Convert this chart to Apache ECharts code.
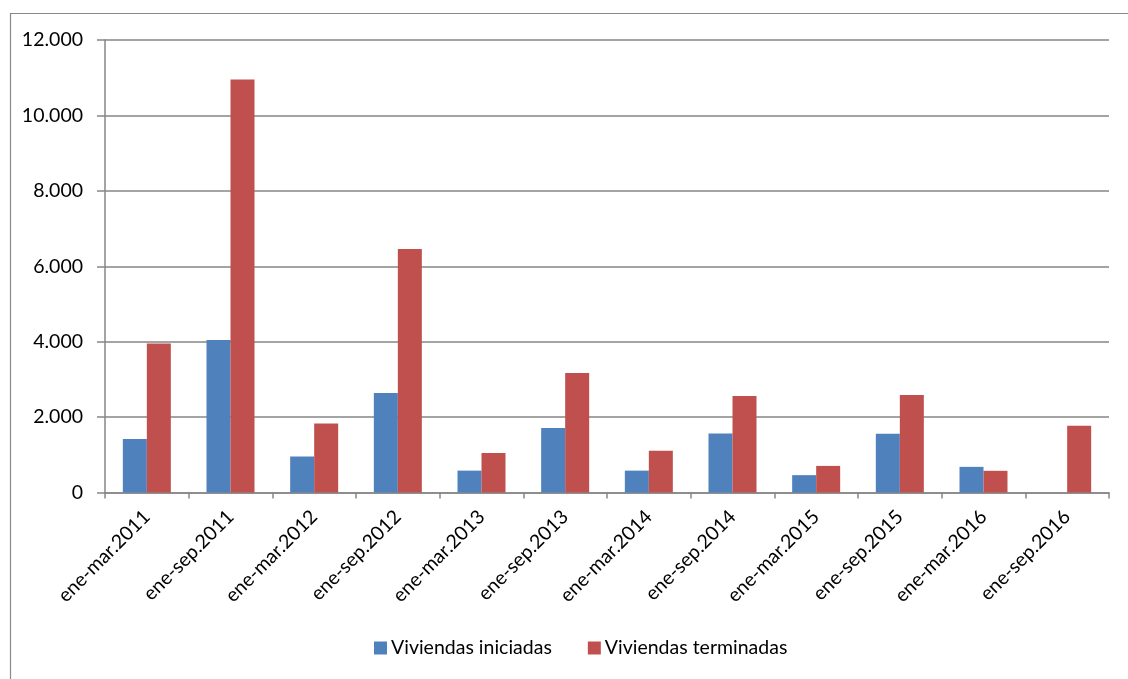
<!DOCTYPE html>
<html>
<head>
<meta charset="utf-8">
<script src="https://cdn.jsdelivr.net/npm/echarts@6/dist/echarts.min.js"></script>
<style>
html,body{margin:0;padding:0;background:#fff;}
#chart{width:1128px;height:679px;}
</style>
</head>
<body>
<div id="chart"></div>
<script>
const categories = ['ene-mar.2011','ene-sep.2011','ene-mar.2012','ene-sep.2012','ene-mar.2013','ene-sep.2013','ene-mar.2014','ene-sep.2014','ene-mar.2015','ene-sep.2015','ene-mar.2016','ene-sep.2016'];
const iniciadas = [1420, 4045, 955, 2640, 580, 1710, 580, 1565, 460, 1555, 680, 0];
const terminadas = [3950, 10950, 1830, 6460, 1045, 3170, 1110, 2560, 705, 2585, 575, 1770];
const seriesNames = ['Viviendas iniciadas', 'Viviendas terminadas'];
const yTicks = { min: 0, max: 12000, interval: 2000 };

const FONT = 'Lato';
const FS = 19.5;
const chart = echarts.init(document.getElementById('chart'), null, { renderer: 'canvas' });
const fmt = v => String(v).replace(/\B(?=(\d{3})+(?!\d))/g, '.');

chart.setOption({
  animation: false,
  backgroundColor: '#fff',
  textStyle: { fontFamily: FONT },
  graphic: [{
    type: 'rect',
    left: 8, top: 11,
    shape: { width: 1300, height: 900 },
    style: { fill: 'none', stroke: '#898989', lineWidth: 1.2 },
    silent: true, z: -1
  }],
  grid: { left: 105, right: 19, top: 40, bottom: 186.5, containLabel: false },
  legend: {
    bottom: 16,
    left: 369,
    itemWidth: 13, itemHeight: 13,
    itemGap: 36,
    icon: 'rect',
    textStyle: { fontFamily: FONT, fontSize: FS, color: '#000', padding: [0, 0, 0, -1] },
    data: seriesNames
  },
  xAxis: {
    type: 'category',
    data: categories,
    axisLine: { lineStyle: { color: '#868686', width: 1.5 } },
    axisTick: { show: true, alignWithLabel: false, length: 6, lineStyle: { color: '#868686', width: 1.5 } },
    axisLabel: { rotate: 45, interval: 0, margin: 21, fontFamily: FONT, fontSize: FS, color: '#000' }
  },
  yAxis: {
    type: 'value',
    min: yTicks.min, max: yTicks.max, interval: yTicks.interval,
    axisLine: { show: true, lineStyle: { color: '#868686', width: 1.5 } },
    axisTick: { show: true, length: 8, lineStyle: { color: '#868686', width: 1.5 } },
    splitLine: { show: true, lineStyle: { color: '#868686', width: 1.5 } },
    axisLabel: { margin: 22, fontFamily: FONT, fontSize: FS, color: '#000', formatter: fmt }
  },
  series: [
    {
      name: seriesNames[0], type: 'bar', data: iniciadas,
      barWidth: 24, barGap: '0%',
      itemStyle: { color: '#4F81BD' }
    },
    {
      name: seriesNames[1], type: 'bar', data: terminadas,
      barWidth: 24, barGap: '0%',
      itemStyle: { color: '#C0504D' }
    }
  ]
});
</script>
</body>
</html>
